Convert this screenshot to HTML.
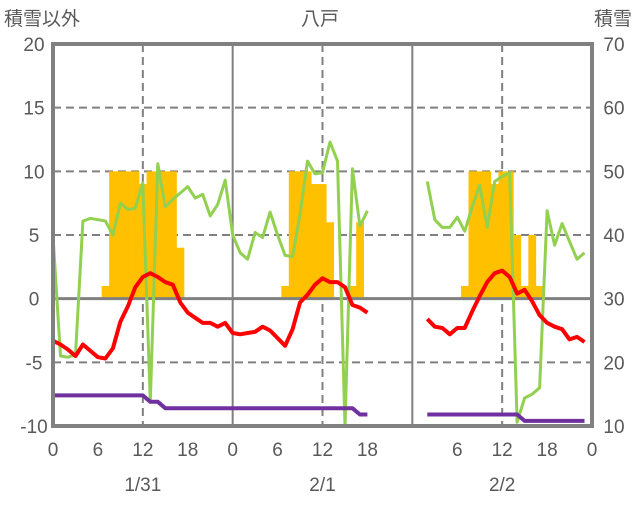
<!DOCTYPE html>
<html><head><meta charset="utf-8"><style>
body{margin:0;background:#fff;}
svg text{font-family:"Liberation Sans","Noto Sans CJK JP",sans-serif;fill:#595959;}
</style></head><body>
<svg id="c" width="636" height="501" viewBox="0 0 636 501">
<g id="grid"></g><g id="bars"></g><g id="lines"></g><g id="frame"></g><g id="labels"></g>
</svg>
<script>
const tickLeft=[20,15,10,5,0,-5,-10];
const tickRight=[70,60,50,40,30,20,10];
const xTickLabels=["0","6","12","18","0","6","12","18","","6","12","18","0"];
const dayLabels=["1/31","2/1","2/2"];
const snowHours=[7,8,9,10,11,12,13,14,15,16,17,31,32,33,34,35,36,37,40,41,55,56,57,58,59,60,61,62,63,64,65];
const snowDepth=[32,50,50,50,50,48,50,50,50,50,38,32,50,50,50,48,48,42,32,42,32,50,50,50,48,50,50,40,32,40,32];
const tempHours=[[0,42],[50,71]];
const temp1=[-3.3,-3.6,-4.0,-4.5,-3.6,-4.1,-4.6,-4.7,-3.9,-1.8,-0.6,0.9,1.7,2.0,1.7,1.3,1.1,-0.3,-1.1,-1.5,-1.9,-1.9,-2.2,-1.9,-2.7,-2.8,-2.7,-2.6,-2.2,-2.5,-3.1,-3.7,-2.4,-0.3,0.3,1.1,1.6,1.3,1.3,0.9,-0.5,-0.7,-1.1];
const temp2=[-1.6,-2.2,-2.3,-2.8,-2.3,-2.3,-1.0,0.2,1.3,2.0,2.2,1.7,0.4,0.7,-0.2,-1.3,-1.9,-2.2,-2.4,-3.2,-3.0,-3.4];
const green1=[4.9,-4.5,-4.6,-4.4,6.1,6.3,6.2,6.1,5.0,7.5,7.0,7.1,9.1,-8.1,10.6,7.2,7.8,8.3,8.8,7.9,8.2,6.5,7.4,9.3,5.0,3.6,3.1,5.2,4.8,6.8,5.0,3.4,3.3,6.6,10.8,9.8,9.9,12.3,10.8,-10.0,10.2,5.7,6.9];
const green2=[9.2,6.2,5.6,5.6,6.4,5.3,7.2,8.9,5.6,9.2,9.6,9.9,-9.7,-7.8,-7.5,-7.0,6.9,4.2,5.9,4.5,3.1,3.6];
const purple1=[-7.6,-7.6,-7.6,-7.6,-7.6,-7.6,-7.6,-7.6,-7.6,-7.6,-7.6,-7.6,-7.6,-8.1,-8.1,-8.6,-8.6,-8.6,-8.6,-8.6,-8.6,-8.6,-8.6,-8.6,-8.6,-8.6,-8.6,-8.6,-8.6,-8.6,-8.6,-8.6,-8.6,-8.6,-8.6,-8.6,-8.6,-8.6,-8.6,-8.6,-8.6,-9.1,-9.1];
const purple2=[-9.1,-9.1,-9.1,-9.1,-9.1,-9.1,-9.1,-9.1,-9.1,-9.1,-9.1,-9.1,-9.1,-9.6,-9.6,-9.6,-9.6,-9.6,-9.6,-9.6,-9.6,-9.6];

const X0=53,X1=592,Y0=44,Y1=426;
const xs=h=>X0+(X1-X0)*h/72;
const yL=v=>Y1-(v+10)*(Y1-Y0)/30;
const yR=v=>Y1-(v-10)*(Y1-Y0)/60;
const NS="http://www.w3.org/2000/svg";
function mk(parent,tag,attrs){const e=document.createElementNS(NS,tag);for(const k in attrs)e.setAttribute(k,attrs[k]);document.getElementById(parent).appendChild(e);return e;}

// grid
[15,10,5,-5].forEach(v=>{const e=mk('grid','line',{x1:X0,x2:X1,y1:yL(v),y2:yL(v),stroke:'#808080','stroke-width':2,'stroke-dasharray':'8,5'});

});
[12,36,60].forEach(h=>{const e=mk('grid','line',{x1:xs(h),x2:xs(h),y1:Y0,y2:Y1,stroke:'#808080','stroke-width':2,'stroke-dasharray':'8,5'});

});
[24,48].forEach(h=>{const e=mk('grid','line',{x1:xs(h),x2:xs(h),y1:Y0,y2:Y1,stroke:'#808080','stroke-width':2});

});

// bars
const bw=(X1-X0)/72;
snowHours.forEach((h,i)=>{const y=yR(snowDepth[i]);const e=mk('bars','rect',{x:xs(h)-bw/2,y:y,width:bw+0.3,height:yR(30)-y,fill:'#FFC000'});

});

// zero axis
{const e=mk('lines','line',{x1:X0,x2:X1,y1:yL(0),y2:yL(0),stroke:'#808080','stroke-width':3});

}

function series(arr,start,color,w,name){const pts=arr.map((v,i)=>xs(start+i).toFixed(1)+','+yL(v).toFixed(1)).join(' ');
const e=mk('lines','polyline',{points:pts,fill:'none',stroke:color,'stroke-width':w,'stroke-linejoin':'round'});

}
series(green1,tempHours[0][0],'#92D050',3,'green-series-1');
series(green2,tempHours[1][0],'#92D050',3,'green-series-2');
series(temp1,tempHours[0][0],'#FF0000',4,'temperature-series-1');
series(temp2,tempHours[1][0],'#FF0000',4,'temperature-series-2');
series(purple1,tempHours[0][0],'#7030A0',4,'purple-series-1');
series(purple2,tempHours[1][0],'#7030A0',4,'purple-series-2');

// frame
{const e=mk('frame','rect',{x:X0,y:Y0,width:X1-X0,height:Y1-Y0,fill:'none',stroke:'#808080','stroke-width':4});

}

// labels
tickLeft.forEach(v=>{const e=mk('labels','text',{x:34,y:yL(v)+7,'text-anchor':'middle','font-size':19});e.textContent=v;

});
tickRight.forEach(v=>{const e=mk('labels','text',{x:614,y:yR(v)+7,'text-anchor':'middle','font-size':19});e.textContent=v;

});
xTickLabels.forEach((t,i)=>{const e=mk('labels','text',{x:xs(i*6),y:456,'text-anchor':'middle','font-size':19});e.textContent=t;

});
dayLabels.forEach((t,i)=>{const e=mk('labels','text',{x:xs(12+24*i),y:491,'text-anchor':'middle','font-size':19});e.textContent=t;

});
[[4,'start','積雪以外','left-axis-title'],[320,'middle','八戸','chart-title'],[632,'end','積雪','right-axis-title']].forEach(a=>{
const e=mk('labels','text',{x:a[0],y:25,'text-anchor':a[1],'font-size':19});e.textContent=a[2];

});
</script>
</body></html>
